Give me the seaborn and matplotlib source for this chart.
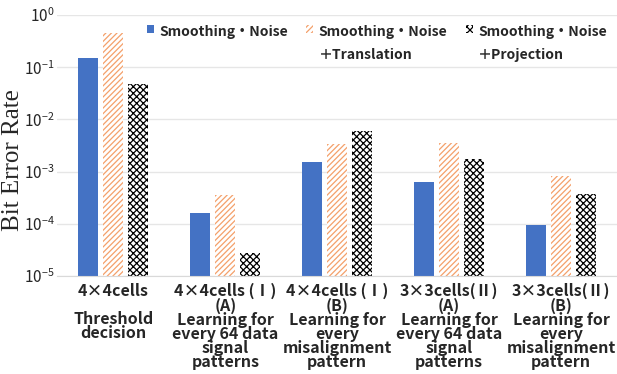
import matplotlib
matplotlib.use("Agg")
import matplotlib.pyplot as plt
import seaborn as sns
import pandas as pd
from matplotlib.patches import Patch

categories = [
    "4×4cells\n\nThreshold\ndecision",
    "4×4cells (Ⅰ)\n(A)\nLearning for\nevery 64 data\nsignal\npatterns",
    "4×4cells (Ⅰ)\n(B)\nLearning for\nevery\nmisalignment\npattern",
    "3×3cells(Ⅱ)\n(A)\nLearning for\nevery 64 data\nsignal\npatterns",
    "3×3cells(Ⅱ)\n(B)\nLearning for\nevery\nmisalignment\npattern",
]
series = [
    "Smoothing・Noise",
    "Smoothing・Noise\n＋Translation",
    "Smoothing・Noise\n＋Projection",
]
noise = [0.15, 1.6e-4, 1.5e-3, 6.4e-4, 9.3e-5]
translation = [0.45, 3.5e-4, 3.4e-3, 3.6e-3, 8.3e-4]
projection = [0.048, 2.7e-5, 6.1e-3, 1.75e-3, 3.7e-4]

sns.set_style("whitegrid")
plt.rcParams["font.family"] = ["Noto Sans CJK JP", "DejaVu Sans"]
plt.rcParams["mathtext.fontset"] = "cm"
plt.rcParams["hatch.linewidth"] = 0.9

rows = []
for vals, name in zip([noise, translation, projection], series):
    for cat, v in zip(categories, vals):
        rows.append({"cat": cat, "series": name, "ber": v})
df = pd.DataFrame(rows)

fig = plt.figure(figsize=(6.17, 3.74), dpi=100)
ax = fig.add_axes([0.093, 0.262, 0.907, 0.698])

sns.barplot(data=df, x="cat", y="ber", hue="series", hue_order=series,
            order=categories, width=0.67, gap=0.19, ax=ax, legend=False)
ax.set_yscale("log")
ax.set_ylim(1e-5, 1)

# bar fills: solid blue, orange diagonal hatch, black cross hatch
styles = [
    dict(facecolor="#4472C4", edgecolor="#4472C4", hatch=None, linewidth=0),
    dict(facecolor="white", edgecolor="#F4A06A", hatch="//////", linewidth=0),
    dict(facecolor="white", edgecolor="black", hatch="xxxxx", linewidth=0),
]
for cont, st in zip(ax.containers, styles):
    for p in cont:
        p.set_facecolor(st["facecolor"])
        p.set_edgecolor(st["edgecolor"])
        p.set_hatch(st["hatch"])
        p.set_linewidth(st["linewidth"])

ax.grid(axis="y", color="#e6e6e6", linewidth=1)
ax.grid(axis="x", visible=False)
for s in ["left", "right", "top"]:
    ax.spines[s].set_visible(False)
ax.spines["bottom"].set_color("#d9d9d9")
ax.tick_params(axis="both", length=0)
ax.tick_params(axis="y", labelsize=11, pad=2)
ax.tick_params(axis="x", pad=5)
for lbl in ax.get_xticklabels():
    lbl.set_fontsize(11.5)
    lbl.set_fontweight("bold")
    lbl.set_linespacing(0.86)
ax.set_xlabel("")
ax.set_ylabel("Bit Error Rate", family="Liberation Serif", fontsize=18)
ax.yaxis.set_label_coords(-0.059, 0.444)

handles = [Patch(**st) for st in styles]
leg = ax.legend(handles, series, ncol=3, loc="upper right", bbox_to_anchor=(1.0, 1.0),
                frameon=False, fontsize=10.1, handlelength=0.5, handleheight=0.5,
                handletextpad=0.4, columnspacing=1.3, borderaxespad=0.3)
for t in leg.get_texts():
    t.set_fontweight("bold")
    t.set_linespacing(1.8)
    t.set_multialignment("left")
# put markers on the first line of two-line labels
leg._legend_handle_box.align = "top"
for col in leg._legend_handle_box.get_children():
    col.align = "left"
    for item in col.get_children():
        item.align = "top"

fig.savefig("out.png", dpi=100)
